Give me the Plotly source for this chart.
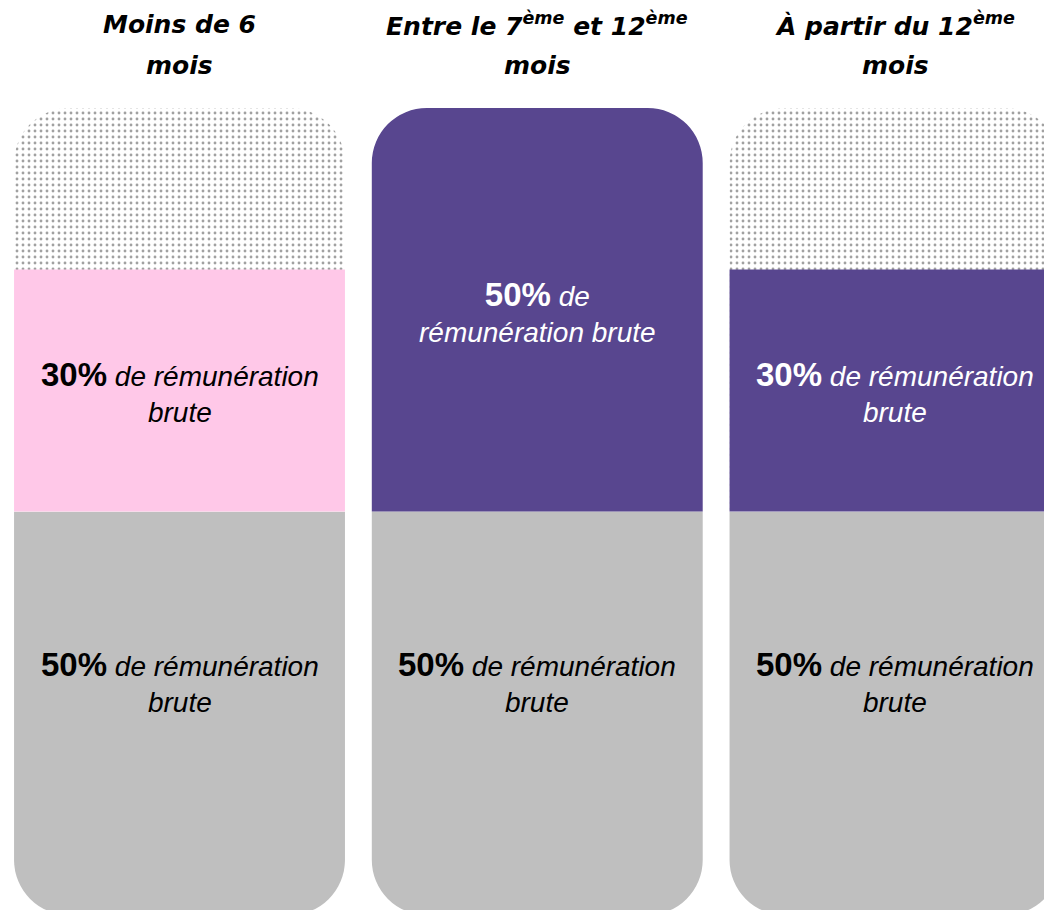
import plotly.graph_objects as go

# ---- data ----
categories = [
    "Moins de 6<br>mois",
    "Entre le 7<sup>ème</sup> et 12<sup>ème</sup><br>mois",
    "À partir du 12<sup>ème</sup><br>mois",
]
base_pct = [50, 50, 50]          # grey part (50% de rémunération brute)
extra_pct = [30, 50, 30]         # coloured part
remaining_pct = [20, 0, 20]      # dotted (not covered) part
extra_colors = ["#FFC8E8", "#58468F", "#58468F"]
extra_text_colors = ["#000000", "#FFFFFF", "#FFFFFF"]
base_labels = [
    "<b><span style='font-size:33px'>50%</span></b> <i>de rémunération</i><br><i>brute</i>",
    "<b><span style='font-size:33px'>50%</span></b> <i>de rémunération</i><br><i>brute</i>",
    "<b><span style='font-size:33px'>50%</span></b> <i>de rémunération</i><br><i>brute</i>",
]
extra_labels = [
    "<b><span style='font-size:33px'>30%</span></b> <i>de rémunération</i><br><i>brute</i>",
    "<b><span style='font-size:33px'>50%</span></b> <i>de</i><br><i>rémunération brute</i>",
    "<b><span style='font-size:33px'>30%</span></b> <i>de rémunération</i><br><i>brute</i>",
]

GREY = "#BFBFBF"
DOT = "#737373"
xs = list(range(len(categories)))
BAR_W = 0.925
RADIUS = 55

fig = go.Figure()

# grey part, drawn below the zero line so its rounded end is at the bottom
fig.add_trace(go.Bar(
    x=xs, y=[-v for v in base_pct], width=BAR_W,
    marker=dict(color=GREY, line=dict(width=0), cornerradius=RADIUS),
    hoverinfo="skip", showlegend=False,
))

# upper part (rounded top): dotted pattern where not covered, else coloured
upper_colors = [extra_colors[i] if remaining_pct[i] == 0 else "white" for i in xs]
fig.add_trace(go.Bar(
    x=xs, y=[extra_pct[i] + remaining_pct[i] for i in xs], width=BAR_W,
    marker=dict(
        color=upper_colors, line=dict(width=0), cornerradius=RADIUS,
        pattern=dict(
            shape=["." if r > 0 else "" for r in remaining_pct],
            fgcolor=DOT, bgcolor=upper_colors, size=6, solidity=0.18,
        ),
    ),
    hoverinfo="skip", showlegend=False,
))

# coloured part (square top) where a dotted part sits above it
fig.add_trace(go.Bar(
    x=xs, y=[extra_pct[i] if remaining_pct[i] > 0 else 0 for i in xs], width=BAR_W,
    marker=dict(color=extra_colors, line=dict(width=0), cornerradius=0),
    hoverinfo="skip", showlegend=False,
))

annotations = []
label_font = dict(family="Liberation Sans, Arial, sans-serif", size=28)
for i in xs:
    annotations.append(dict(
        x=i, y=-base_pct[i] / 2, xref="x", yref="y", yshift=31,
        text=base_labels[i], showarrow=False, align="center",
        font=dict(color="#000000", **label_font),
    ))
    annotations.append(dict(
        x=i, y=extra_pct[i] / 2, xref="x", yref="y", yshift=-2,
        text=extra_labels[i], showarrow=False, align="center",
        font=dict(color=extra_text_colors[i], **label_font),
    ))
    # column titles
    for j, line in enumerate(categories[i].split("<br>")):
        annotations.append(dict(
            x=i, y=1 - (16 + 41 * j) / 910, xref="x", yref="paper",
            yanchor="middle", text="<b><i>" + line + "</i></b>",
            showarrow=False, align="center",
            font=dict(family="DejaVu Sans, sans-serif", size=25, color="#000000"),
        ))

fig.update_layout(
    width=1052, height=910, autosize=False,
    margin=dict(l=0, r=0, t=0, b=0),
    paper_bgcolor="white", plot_bgcolor="white",
    barmode="overlay",
    xaxis=dict(range=[-0.4794, 2.4612], visible=False, fixedrange=True),
    yaxis=dict(range=[-50.37, 62.39], visible=False, fixedrange=True),
    annotations=annotations,
)

fig.write_html("out.html")
